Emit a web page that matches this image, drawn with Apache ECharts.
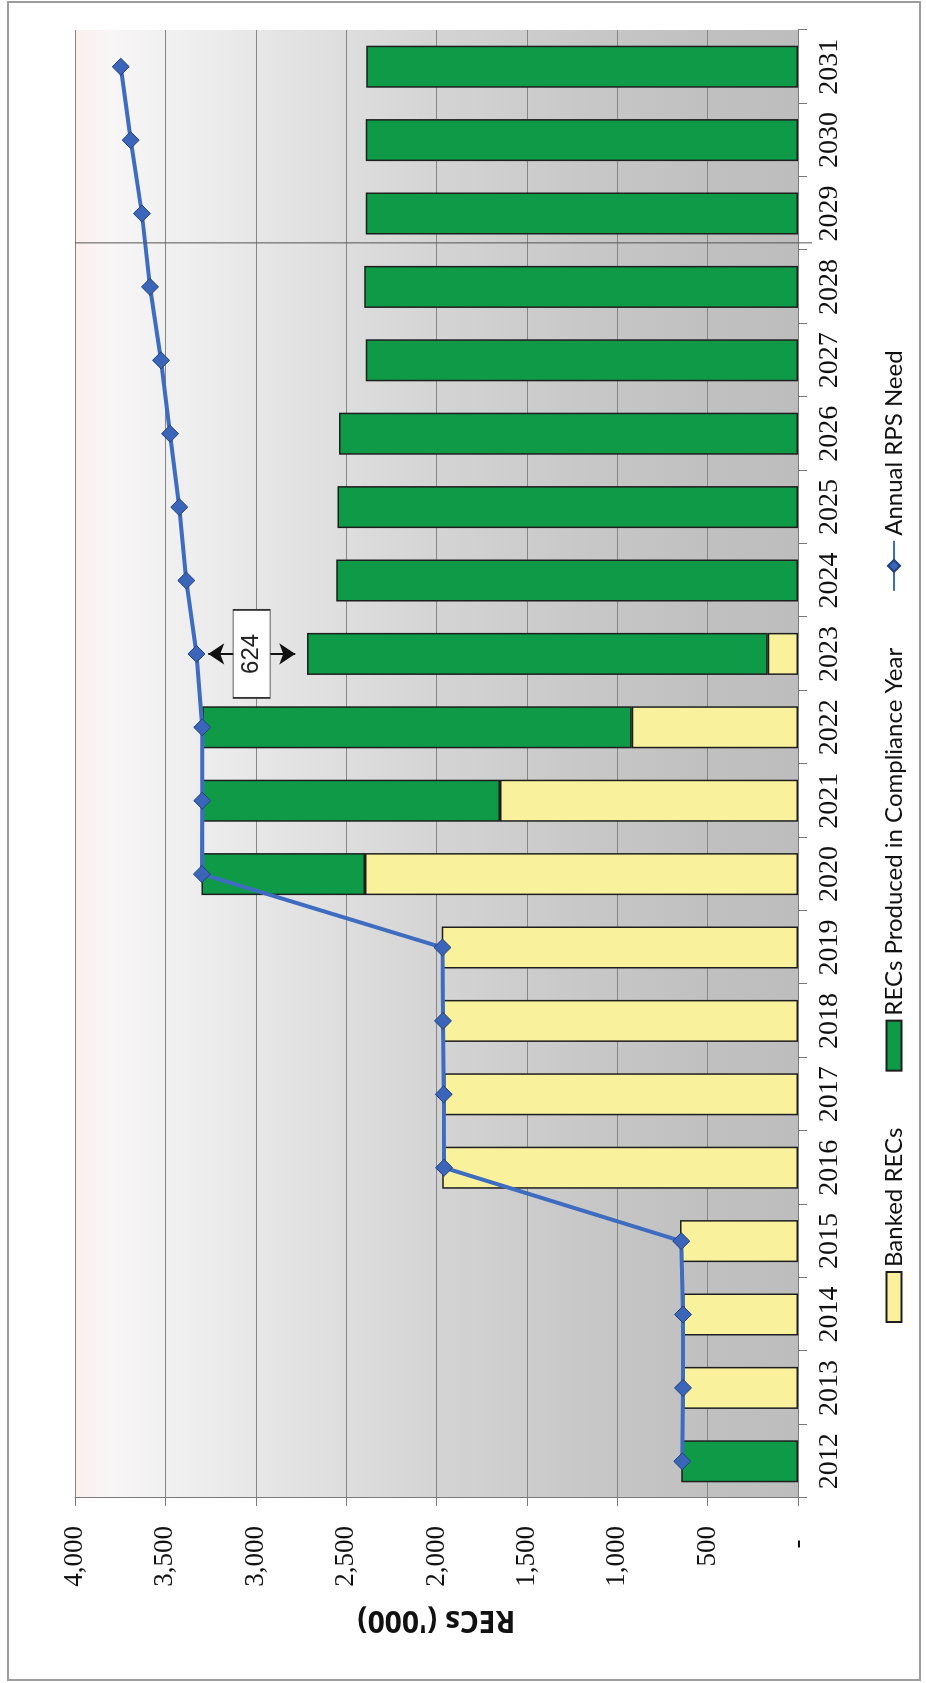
<!DOCTYPE html>
<html><head><meta charset="utf-8">
<script src="https://cdn.jsdelivr.net/npm/echarts@6.0.0/dist/echarts.min.js"></script>
<style>
html,body{margin:0;padding:0;background:#fff;overflow:hidden;width:926px;height:1683px;}
#rot{position:absolute;left:0;top:0;width:1683px;height:926px;transform-origin:0 0;transform:translateY(1683px) rotate(-90deg);}
#chart{width:1683px;height:926px;}
</style></head><body>
<div id="rot"><div id="chart"></div></div>
<script>
// ---- data (thousand RECs) ----
const years = ['2012','2013','2014','2015','2016','2017','2018','2019','2020','2021','2022','2023','2024','2025','2026','2027','2028','2029','2030','2031'];
const bankedRECs = [0, 636, 636, 653, 1968, 1959, 1965, 1971, 2396, 1649, 920, 167, 0, 0, 0, 0, 0, 0, 0, 0];
const producedRECs = [646, 0, 0, 0, 0, 0, 0, 0, 904, 1647, 2376, 2550, 2555, 2548, 2539, 2391, 2400, 2391, 2391, 2388];
const rpsNeed = [640, 636, 636, 646, 1958, 1960, 1964, 1967, 3298, 3296, 3296, 3328, 3384, 3423, 3474, 3524, 3585, 3630, 3692, 3747];
const valueMin = 0, valueMax = 4000, valueStep = 500;
const seriesNames = ['Banked RECs', 'RECs Produced in Compliance Year', 'Annual RPS Need'];
const axisTitle = "RECs ('000)";
const gapYear = '2023';
const gapLabel = '624';

const toBar = arr => arr.map(v => v === 0 ? '-' : v);
const gi = years.indexOf(gapYear);
const gapTop = rpsNeed[gi];
const gapBottom = bankedRECs[gi] + producedRECs[gi];

const chart = echarts.init(document.getElementById('chart'), null, {width:1683, height:926, renderer:'canvas'});
const labelFont = "'Liberation Serif', 'Times New Roman', serif";
const sansFont = "Lato, 'Open Sans', 'Liberation Sans', sans-serif";
const barBorder = {borderColor:'#1e1e1e', borderWidth:1.5};

chart.setOption({
  animation:false,
  backgroundColor:'#ffffff',
  grid:{left:185, right:30, top:75, bottom:128, show:true, borderWidth:0,
    backgroundColor:{type:'linear', x:0, y:0, x2:0, y2:1, colorStops:[
      {offset:0, color:'#fcefef'}, {offset:0.05, color:'#f8f6f6'}, {offset:0.15, color:'#efefef'},
      {offset:0.3, color:'#e3e3e3'}, {offset:0.5, color:'#d4d4d4'}, {offset:0.7, color:'#c8c8c8'},
      {offset:0.85, color:'#c1c1c1'}, {offset:1, color:'#bdbdbd'}]}},
  legend:{
    data:[{name:seriesNames[0], icon:'rect'}, {name:seriesNames[1], icon:'rect'}, {name:seriesNames[2]}],
    left:355, top:877, itemWidth:50, itemHeight:15, itemGap:56,
    textStyle:{fontFamily:sansFont, fontSize:24, color:'#111'}
  },
  xAxis:{type:'category', data:years,
    axisLine:{lineStyle:{color:'#7a7a7a', width:1}},
    axisTick:{show:true, length:9, lineStyle:{color:'#7a7a7a'}},
    axisLabel:{interval:0, margin:18, fontFamily:labelFont, fontSize:28, color:'#111'},
    splitLine:{show:false}},
  yAxis:{type:'value', min:valueMin, max:valueMax, interval:valueStep,
    name:axisTitle, nameLocation:'middle', nameGap:107, nameRotate:90,
    nameTextStyle:{fontFamily:"'Open Sans', Lato, sans-serif", fontWeight:'bold', fontSize:30, color:'#111'},
    axisLine:{show:true, lineStyle:{color:'#7a7a7a', width:1}},
    axisTick:{show:true, length:8, lineStyle:{color:'#7a7a7a'}},
    axisLabel:{margin:28, fontFamily:labelFont, fontSize:27, color:'#111',
      formatter:v => v === 0 ? '-  ' : v.toLocaleString('en-US')},
    splitLine:{show:true, lineStyle:{color:'#868686', width:1}}},
  series:[
    {name:seriesNames[0], type:'bar', stack:'total', barWidth:42, data:toBar(bankedRECs),
     itemStyle:Object.assign({color:'#f9f19c'}, barBorder)},
    {name:seriesNames[1], type:'bar', stack:'total', barWidth:42, data:toBar(producedRECs),
     itemStyle:Object.assign({color:'#0f9a48'}, barBorder)},
    {name:seriesNames[2], type:'line', data:rpsNeed, z:4,
     symbol:'diamond', symbolSize:17,
     lineStyle:{color:'#3d6cc0', width:4},
     itemStyle:{color:'#3b65b8', borderColor:'#21407f', borderWidth:1},
     markLine:{silent:true, z:6, symbol:['arrow','arrow'], symbolSize:[16,16],
       lineStyle:{color:'#111', width:2, type:'solid'}, label:{show:false},
       data:[[{coord:[gapYear, gapTop - 65]}, {coord:[gapYear, gapBottom + 65]}]]},
     markPoint:{silent:true, z:7,
       data:[{coord:[gapYear, (gapTop + gapBottom) / 2], symbol:'rect', symbolSize:[88,37],
         itemStyle:{color:'#ffffff', borderColor:'#333', borderWidth:1.2},
         label:{show:true, formatter:gapLabel, color:'#222', fontSize:24, fontFamily:"'Liberation Sans', Arial, sans-serif", position:'inside'}}]}}
  ],
  graphic:[{id:'frame', type:'rect', shape:{x:3, y:8, width:1678, height:912}, silent:true,
    style:{fill:'none', stroke:'#9c9c9c', lineWidth:2}}]
});

// thin dark scan line between the 2028 and 2029 rows
const xa = chart.convertToPixel({xAxisIndex:0}, '2028');
const xb = chart.convertToPixel({xAxisIndex:0}, '2029');
const yTop = chart.convertToPixel({yAxisIndex:0}, valueMax);
const yBot = chart.convertToPixel({yAxisIndex:0}, valueMin);
const xl = xa + 0.6 * (xb - xa);
chart.setOption({graphic:[{id:'scanline', type:'line', silent:true, z:10,
  shape:{x1:xl, y1:yTop, x2:xl, y2:yBot + 14}, style:{stroke:'#555', lineWidth:1}}]});
</script></body></html>
